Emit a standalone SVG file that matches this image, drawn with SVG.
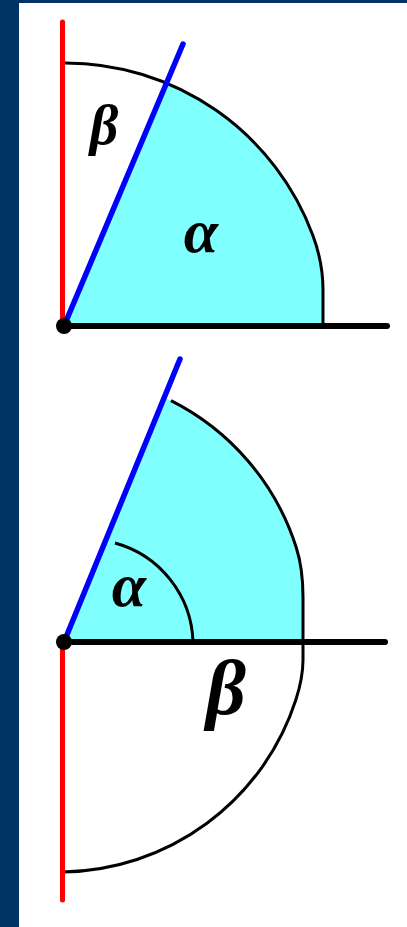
<svg xmlns="http://www.w3.org/2000/svg" width="407" height="927" viewBox="0 0 407 927">
<style>
.fill{fill:#80FFFF;stroke:none}
.arc{fill:none;stroke:#000;stroke-width:3}
.axis{stroke:#000;stroke-width:6;stroke-linecap:round}
.red{stroke:#FF0000;stroke-width:5;stroke-linecap:round}
.blue{stroke:#0000FF;stroke-width:5.5;stroke-linecap:round}
.lbl{font-family:"Liberation Serif","Times New Roman",serif;font-style:italic;font-weight:bold;fill:#000;text-anchor:middle}
</style>
<rect x="0" y="0" width="407" height="927" fill="#003366"/>
<rect x="19" y="3" width="388" height="924" fill="#FFFFFF"/>
<g id="top-figure">
  <path class="fill" d="M64 326 L166 83 A264 264 0 0 1 313 235.7 C318.2 249.8 323 270 323 290 L323 326 Z"/>
  <path class="arc" d="M65 63 A264 264 0 0 1 313 235.7 C318.2 249.8 323 270 323 290 L323 326"/>
  <line class="red" x1="62.5" y1="22" x2="62.5" y2="326"/>
  <line class="axis" x1="64" y1="326" x2="387" y2="326"/>
  <line class="blue" x1="64" y1="326" x2="183" y2="44"/>
  <circle cx="64" cy="326" r="8" fill="#000"/>
  <text class="lbl" x="104" y="144" font-size="56">β</text>
  <text class="lbl" x="201" y="252" font-size="62">α</text>
</g>
<g id="bottom-figure">
  <path class="fill" d="M64 642 L165 398 L171 400.6 A249 249 0 0 1 296.1 547 C300.7 561.3 303 580 303 597 L303 642 Z"/>
  <path class="arc" d="M171 400.6 A249 249 0 0 1 296.1 547 C300.7 561.3 303 580 303 597 L303 660 C303 675 299.8 687.6 295.8 700 A249 249 0 0 1 63 872"/>
  <path class="arc" d="M115 543 A106 106 0 0 1 193 642"/>
  <line class="red" x1="62.5" y1="642" x2="62.5" y2="900"/>
  <line class="axis" x1="64" y1="642" x2="385" y2="642"/>
  <line class="blue" x1="64" y1="642" x2="180" y2="359"/>
  <circle cx="64" cy="642" r="8" fill="#000"/>
  <text class="lbl" x="129" y="606" font-size="62">α</text>
  <text class="lbl" x="226" y="714" font-size="78">β</text>
</g>
</svg>
